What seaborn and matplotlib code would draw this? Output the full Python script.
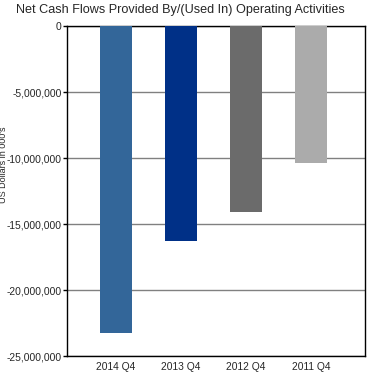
import pandas as pd
import seaborn as sns
import matplotlib.pyplot as plt
from matplotlib.ticker import FuncFormatter

# Net cash flows by period

periods = ['2014 Q4', '2013 Q4', '2012 Q4', '2011 Q4']
cash_flows = [-23250000, -16300000, -14100000, -10400000]
bar_colors = ['#336699', '#003087', '#6b6b6b', '#ababab']

df = pd.DataFrame({'Period': periods, 'Value': cash_flows})

sns.set_style('white')
plt.rcParams['font.family'] = ['Liberation Sans', 'DejaVu Sans']

fig = plt.figure(figsize=(3.81, 3.82), dpi=100)
ax = fig.add_axes([67/381, 26/382, 298/381, 330/382])

sns.barplot(data=df, x='Period', y='Value', hue='Period',
            palette=bar_colors, width=0.49, saturation=1, legend=False,
            edgecolor='none', linewidth=0, ax=ax, zorder=3)

ax.set_ylim(-25000000, 0)
ax.set_xlim(-0.755, 3.83)
ax.set_yticks(range(-25000000, 1, 5000000))
ax.yaxis.set_major_formatter(FuncFormatter(lambda v, p: f'{int(v):,}'))
ax.yaxis.grid(True, color='#808080', linewidth=1, zorder=0)
ax.tick_params(axis='y', labelsize=7.4, length=3, width=1, color='black', pad=1, left=True)
ax.tick_params(axis='x', labelsize=7.4, length=0, pad=4)
ax.set_xlabel('')
ax.set_ylabel("US Dollars in 000's", fontsize=6.5, labelpad=0)
ax.yaxis.set_label_coords(-0.198, 0.58)

for s in ax.spines.values():
    s.set_color('black')
    s.set_linewidth(1)

fig.suptitle('Net Cash Flows Provided By/(Used In) Operating Activities',
             fontsize=9.1, x=0.474, y=0.99, va='top')

fig.savefig('out.png', dpi=100)
